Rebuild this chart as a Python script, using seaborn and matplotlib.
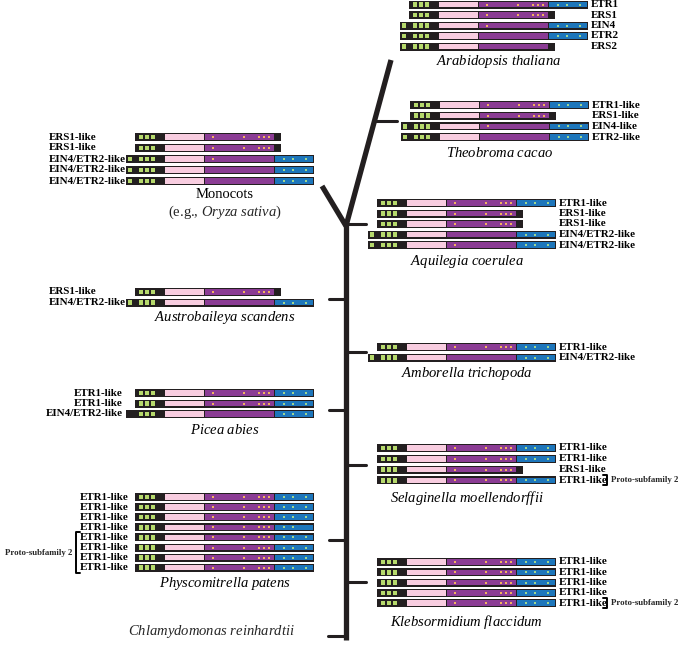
import matplotlib
matplotlib.use("Agg")
import numpy as np
import pandas as pd
import matplotlib.pyplot as plt
import seaborn as sns

sns.set_theme(style="white")
plt.rcParams['font.family'] = ['Liberation Serif', 'DejaVu Serif']
plt.rcParams['mathtext.fontset'] = 'custom'
plt.rcParams['mathtext.rm'] = 'Liberation Serif'
plt.rcParams['mathtext.it'] = 'Liberation Serif:italic'

# gene rows for each species: label and domain layout type
arabidopsis_genes = ["ETR1", "ERS1", "EIN4", "ETR2", "ERS2"]
arabidopsis_types = ["ETR", "ERS", "EIN1", "EIN0", "ERS2"]
theobroma_genes = ["ETR1-like", "ERS1-like", "EIN4-like", "ETR2-like"]
theobroma_types = ["ETR", "ERS", "EIN1", "EIN0"]
aquilegia_genes = ["ETR1-like", "ERS1-like", "ERS1-like", "EIN4/ETR2-like", "EIN4/ETR2-like"]
aquilegia_types = ["ETR", "ERS", "ERS", "EIN0", "EIN1"]
amborella_genes = ["ETR1-like", "EIN4/ETR2-like"]
amborella_types = ["ETR", "EIN0"]
selaginella_genes = ["ETR1-like", "ETR1-like", "ERS1-like", "ETR1-like"]
selaginella_types = ["ETR", "ETR", "ERS", "ETR"]
klebsormidium_genes = ["ETR1-like", "ETR1-like", "ETR1-like", "ETR1-like", "ETR1-like"]
klebsormidium_types = ["ETR", "ETR", "ETR", "ETR", "ETR"]
monocot_genes = ["ERS1-like", "ERS1-like", "EIN4/ETR2-like", "EIN4/ETR2-like", "EIN4/ETR2-like"]
monocot_types = ["ERS", "ERS", "EIN1", "EIN0", "EIN0"]
austrobaileya_genes = ["ERS1-like", "EIN4/ETR2-like"]
austrobaileya_types = ["ERS", "EIN0"]
picea_genes = ["ETR1-like", "ETR1-like", "EIN4/ETR2-like"]
picea_types = ["ETR", "ETR", "EINb"]
physco_genes = ["ETR1-like", "ETR1-like", "ETR1-like", "ETR1-like",
                "ETR1-like", "ETR1-like", "ETR1-like", "ETR1-like"]
physco_types = ["ETR", "ETR", "ETR", "ETR2", "ETR", "ETR", "ETR", "ETR"]

# rows belonging to proto-subfamily 2
selaginella_proto = [3]
klebsormidium_proto = [4]
physco_proto = [4, 5, 6, 7]

# domain offsets along a receptor (pixels from start of main bar)
square_pos = [4, 10, 16]
yellow_pos = [8, 39, 54, 59, 64]
blue_pos = [9, 18, 31]

BLACK = '#231f20'
GREEN = '#b6d96c'
PINK = '#f8cde0'
PURPLE = '#8b3c94'
BLUE = '#1d76bb'
YELLOW = '#f2b35e'
BDOT = '#9fd68f'

# layout: x0 of bars, first row y, row step, label side/alignment, species label
blocks = [
    dict(genes=arabidopsis_genes, types=arabidopsis_types, x0=409, y0=4.5, dy=10.5,
         lab='right', name=r"$\mathit{Arabidopsis\ thaliana}$", ny=62, proto=[]),
    dict(genes=theobroma_genes, types=theobroma_types, x0=410, y0=105, dy=10.7,
         lab='right', name=r"$\mathit{Theobroma\ cacao}$", ny=153, proto=[]),
    dict(genes=aquilegia_genes, types=aquilegia_types, x0=377, y0=203, dy=10.5,
         lab='right', name=r"$\mathit{Aquilegia\ coerulea}$", ny=261, proto=[]),
    dict(genes=amborella_genes, types=amborella_types, x0=377, y0=347, dy=10.5,
         lab='right', name=r"$\mathit{Amborella\ trichopoda}$", ny=373, proto=[]),
    dict(genes=selaginella_genes, types=selaginella_types, x0=377, y0=448, dy=10.8,
         lab='right', name=r"$\mathit{Selaginella\ moellendorffii}$", ny=498, proto=selaginella_proto),
    dict(genes=klebsormidium_genes, types=klebsormidium_types, x0=377, y0=562, dy=10.3,
         lab='right', name=r"$\mathit{Klebsormidium\ flaccidum}$", ny=622, proto=klebsormidium_proto),
    dict(genes=monocot_genes, types=monocot_types, x0=135, y0=137, dy=11,
         lab='left', labx=49, name="Monocots", ny=195, proto=[]),
    dict(genes=austrobaileya_genes, types=austrobaileya_types, x0=135, y0=292, dy=10.5,
         lab='left', labx=49, name=r"$\mathit{Austrobaileya\ scandens}$", ny=318, proto=[]),
    dict(genes=picea_genes, types=picea_types, x0=135, y0=393, dy=10.5,
         lab='rightalign', labx=123, name=r"$\mathit{Picea\ abies}$", ny=430, proto=[]),
    dict(genes=physco_genes, types=physco_types, x0=135, y0=497, dy=10.1,
         lab='rightalign', labx=129, name=r"$\mathit{Physcomitrella\ patens}$", ny=583, proto=physco_proto),
]

fig = plt.figure(figsize=(6.92, 6.47), dpi=100)
ax = fig.add_axes([0, 0, 1, 1])


def draw_row(x0, y, kind):
    extra = kind in ("EIN1", "EIN0", "ERS2", "EINb")
    has_blue = kind not in ("ERS", "ERS2")
    lead = x0 - 9 if extra else x0
    right = x0 + 179 if has_blue else x0 + 146
    ax.barh(y, right - lead, left=lead, height=8, color=BLACK, lw=0)
    sq = [x0 + s for s in square_pos]
    if kind in ("EIN1", "EIN0", "ERS2"):
        sq = [x0 - 7] + sq
    ax.barh([y] * len(sq), 3.8, left=sq, height=4.5, color=GREEN, lw=0)
    ax.barh(y, 39.5, left=x0 + 29.5, height=5.5, color=PINK, lw=0)
    ax.barh(y, 68.5, left=x0 + 70, height=5.5, color=PURPLE, lw=0)
    if has_blue:
        ax.barh(y, 38.5, left=x0 + 139.5, height=5.5, color=BLUE, lw=0)
        bp = blue_pos[:2] if kind == "ETR2" else blue_pos
        ax.scatter([x0 + 139.5 + b for b in bp], [y] * len(bp), marker='s', s=4,
                   color=BDOT, lw=0, zorder=3)
    if kind in ("ETR", "ETR2", "ERS"):
        yp = yellow_pos
    elif kind == "EIN1":
        yp = yellow_pos[:1]
    else:
        yp = []
    if yp:
        ax.scatter([x0 + 70 + p for p in yp], [y] * len(yp), marker='s', s=4,
                   color=YELLOW, lw=0, zorder=3)


lab_font = dict(fontsize=7.9, fontweight='bold', va='center', color='black')
for b in blocks:
    ys = [b['y0'] + i * b['dy'] for i in range(len(b['genes']))]
    for y, g, t in zip(ys, b['genes'], b['types']):
        draw_row(b['x0'], y, t)
        if b['lab'] == 'right':
            ax.text(b['x0'] + 182, y, g, ha='left', **lab_font)
        elif b['lab'] == 'left':
            ax.text(b['labx'], y, g, ha='left', **lab_font)
        else:
            ax.text(b['labx'], y, g, ha='right', **lab_font)
    cx = b['x0'] + 89.5
    ax.text(cx, b['ny'], b['name'], ha='center', va='center', fontsize=10.5, color='black')
    if b['proto']:
        py = [ys[i] for i in b['proto']]
        top, bot = min(py) - 5, max(py) + 5
        if b['lab'] == 'right':
            bx = b['x0'] + 226
            ax.plot([bx, bx + 4, bx + 4, bx], [top, top, bot, bot], color='black', lw=1.4)
            ax.text(bx + 8, (top + bot) / 2, "Proto-subfamily 2", ha='left', va='center',
                    fontsize=6.3, fontweight='bold')
        else:
            bx = 76
            ax.plot([bx + 4, bx, bx, bx + 4], [top, top, bot, bot], color='black', lw=1.4)
            ax.text(bx - 4, (top + bot) / 2, "Proto-subfamily 2", ha='right', va='center',
                    fontsize=6.3, fontweight='bold')

ax.text(224.5, 212, r"(e.g., $\mathit{Oryza\ sativa}$)", ha='center', va='center', fontsize=10.5)
ax.text(211, 632, r"$\mathit{Chlamydomonas\ reinhardtii}$", ha='center', va='center', fontsize=10.5)

# tree: trunk and fork branches
tree = pd.DataFrame({
    'seg': ['trunk', 'trunk', 'mono', 'mono', 'eud', 'eud'],
    'x': [346, 346, 346, 322, 346, 391],
    'y': [222, 640, 226, 186, 226, 60],
})
sns.lineplot(data=tree, x='x', y='y', units='seg', estimator=None, sort=False,
             color=BLACK, lw=3.8, ax=ax, legend=False)
for ln in ax.lines[-3:]:
    ln.set_solid_capstyle('butt')

# side ticks leading to each clade
ticks = pd.DataFrame({
    'seg': ['theo', 'theo', 'aqu', 'aqu', 'amb', 'amb', 'sel', 'sel', 'kleb', 'kleb',
            'aus', 'aus', 'pic', 'pic', 'phy', 'phy', 'chl', 'chl'],
    'x': [374, 397, 346, 366, 346, 366, 346, 366, 346, 366,
          329, 346, 329, 346, 329, 346, 328, 346],
    'y': [121, 121, 224, 224, 352, 352, 465, 465, 582, 582,
          299, 299, 410, 410, 540, 540, 636, 636],
})
sns.lineplot(data=ticks, x='x', y='y', units='seg', estimator=None, sort=False,
             color=BLACK, lw=2.2, ax=ax, legend=False)

ax.set_xlim(0, 692)
ax.set_ylim(647, 0)
ax.axis('off')
fig.savefig('out.png', dpi=100)
